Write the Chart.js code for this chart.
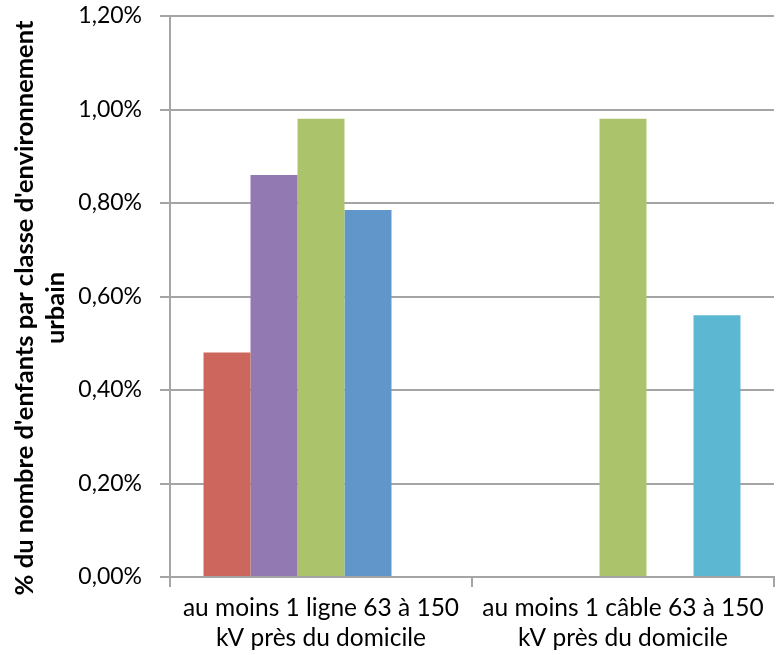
<!DOCTYPE html>
<html>
<head>
<meta charset="utf-8">
<script src="https://cdn.jsdelivr.net/npm/chart.js@4/dist/chart.umd.min.js"></script>
<style>
  html, body { margin: 0; padding: 0; background: #ffffff; }
  #wrap { width: 776px; height: 655px; position: relative; }
</style>
</head>
<body>
<div id="wrap"><canvas id="c"></canvas></div>
<script>
// Categories (two-line labels)
const categories = [
  ["au moins 1 ligne 63 à 150", "kV près du domicile"],
  ["au moins 1 câble 63 à 150", "kV près du domicile"]
];

// Series values, in percent
const serie1 = [0.48, null];
const serie2 = [0.86, null];
const serie3 = [0.98, 0.98];
const serie4 = [0.785, null];
const serie5 = [null, 0.56];

const seriesColors = ["#CD665D", "#9379B1", "#ABC46C", "#6196CA", "#5CB8D2"];

// Y axis range and step, in percent
const yMin = 0;
const yMax = 1.2;
const yStep = 0.2;

const yTitle = ["% du nombre d'enfants par classe d'environnement", "urbain"];

const FONT = "Lato, 'Open Sans', sans-serif";
const GRID = "#a5a5a5";

const seriesValues = [serie1, serie2, serie3, serie4, serie5];

// Rotated two-line title for the value axis, centred beside the plot
const yTitlePlugin = {
  id: "yTitle",
  afterDraw(chart) {
    const ctx = chart.ctx;
    ctx.save();
    ctx.fillStyle = "#000000";
    ctx.font = "bold 25.5px " + FONT;
    ctx.textAlign = "center";
    ctx.textBaseline = "alphabetic";
    const cy = 308;
    const baselines = [33, 64];
    yTitle.forEach((line, i) => {
      ctx.save();
      ctx.translate(baselines[i], cy);
      ctx.rotate(-Math.PI / 2);
      ctx.fillText(line, 0, 0);
      ctx.restore();
    });
    ctx.restore();
  }
};

new Chart(document.getElementById("c"), {
  type: "bar",
  data: {
    labels: categories,
    datasets: seriesValues.map((vals, i) => ({
      label: "Série " + (i + 1),
      data: vals,
      backgroundColor: seriesColors[i],
      borderWidth: 0,
      barPercentage: 1,
      categoryPercentage: 0.778
    }))
  },
  plugins: [yTitlePlugin],
  options: {
    responsive: true,
    maintainAspectRatio: false,
    animation: false,
    devicePixelRatio: 1,
    layout: { padding: { top: 16, right: 2, bottom: 0, left: 0 } },
    plugins: {
      legend: { display: false },
      tooltip: { enabled: false }
    },
    scales: {
      x: {
        grid: {
          display: true,
          drawOnChartArea: false,
          drawTicks: true,
          tickLength: 10,
          color: GRID,
          lineWidth: 2,
          offset: true
        },
        border: { display: true, color: GRID, width: 2 },
        ticks: {
          color: "#000000",
          font: { family: FONT, size: 24.5, lineHeight: 1.22 },
          padding: 6,
          maxRotation: 0,
          autoSkip: false
        },
        afterFit: (s) => { s.height = 655 - 577; }
      },
      y: {
        min: yMin,
        max: yMax,
        grid: {
          color: GRID,
          lineWidth: 2,
          drawTicks: true,
          tickLength: 10
        },
        border: { display: true, color: GRID, width: 2 },
        ticks: {
          stepSize: yStep,
          color: "#000000",
          font: { family: FONT, size: 23 },
          padding: 18,
          callback: (v) => v.toFixed(2).replace(".", ",") + "%"
        },
        afterFit: (s) => {
          s.width = 170;
          s.paddingTop = 0;
          s.paddingBottom = 0;
        }
      }
    }
  }
});
</script>
</body>
</html>
